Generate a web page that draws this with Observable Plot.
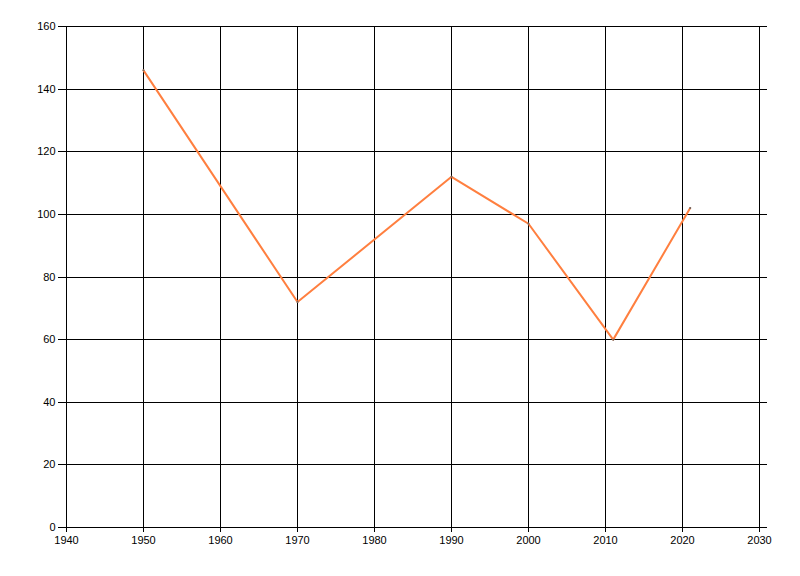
<!DOCTYPE html>
<html>
<head>
<meta charset="utf-8">
<script src="https://cdn.jsdelivr.net/npm/d3@7"></script>
<script src="https://cdn.jsdelivr.net/npm/@observablehq/plot@0.6"></script>
<style>
  html, body { margin: 0; padding: 0; background: #fff; }
  #chart svg { display: block; }
</style>
</head>
<body>
<div id="chart"></div>
<script>
const years = [1950, 1970, 1990, 2000, 2011, 2021];
const values = [146, 72, 112, 97, 60, 102];
const xTicks = [1940, 1950, 1960, 1970, 1980, 1990, 2000, 2010, 2020, 2030];
const yTicks = [0, 20, 40, 60, 80, 100, 120, 140, 160];

const data = years.map((y, i) => ({year: y, value: values[i]}));

const chart = Plot.plot({
  width: 800,
  height: 576,
  marginLeft: 66,
  marginRight: 41,
  marginTop: 26,
  marginBottom: 49,
  style: {fontFamily: "'Liberation Sans', Arial, sans-serif", fontSize: "11px", color: "#000", background: "#fff"},
  x: {domain: [1940, 2030], ticks: xTicks, tickFormat: d => String(d)},
  y: {domain: [0, 160], ticks: yTicks},
  marks: [
    Plot.ruleY(yTicks, {stroke: "#000", strokeWidth: 1, insetLeft: -8, insetRight: -8, shapeRendering: "crispEdges"}),
    Plot.ruleX(xTicks, {stroke: "#000", strokeWidth: 1, insetBottom: -5, shapeRendering: "crispEdges"}),
    Plot.axisX(xTicks, {tickSize: 0, tickPadding: 9, label: null, tickFormat: d => String(d), fill: "#000"}),
    Plot.axisY(yTicks, {tickSize: 0, tickPadding: 11, label: null, fill: "#000"}),
    Plot.line(data, {x: "year", y: "value", stroke: "#ff7f3f", strokeWidth: 2}),
    Plot.dot(data, {x: "year", y: "value", r: 1, fill: "#666", stroke: "none"})
  ]
});
document.getElementById("chart").appendChild(chart);
</script>
</body>
</html>
